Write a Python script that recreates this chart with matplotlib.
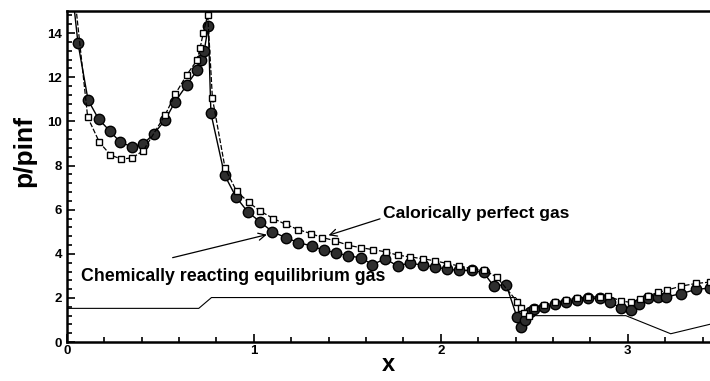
import numpy as np
import matplotlib
matplotlib.use('Agg')
import matplotlib.pyplot as plt
from matplotlib.ticker import MultipleLocator

plt.rcParams['font.family'] = ['Liberation Sans', 'DejaVu Sans']
plt.rcParams['font.weight'] = 'bold'

# chemically reacting equilibrium gas (filled circles); first point is line start only
circ_x = [0.035, 0.06, 0.114, 0.17, 0.229, 0.287, 0.35, 0.409, 0.465, 0.526, 0.58,
          0.642, 0.698, 0.72, 0.735, 0.757, 0.771, 0.844, 0.905, 0.968, 1.034, 1.10,
          1.17, 1.238, 1.309, 1.375, 1.438, 1.506, 1.572, 1.635, 1.703, 1.769, 1.835,
          1.903, 1.968, 2.036, 2.10, 2.165, 2.229, 2.283, 2.35, 2.407, 2.43, 2.45,
          2.478, 2.50, 2.55, 2.61, 2.668, 2.727, 2.79, 2.85, 2.905, 2.964, 3.015,
          3.06, 3.11, 3.16, 3.207, 3.287, 3.367, 3.44]
circ_y = [15.5, 13.55, 10.97, 10.11, 9.58, 9.05, 8.85, 8.98, 9.43, 10.06, 10.9,
          11.65, 12.33, 12.8, 13.2, 14.3, 10.37, 7.57, 6.58, 5.9, 5.45, 5.0,
          4.74, 4.51, 4.36, 4.16, 4.06, 3.9, 3.83, 3.51, 3.78, 3.45, 3.59,
          3.48, 3.41, 3.3, 3.25, 3.25, 3.16, 2.54, 2.61, 1.15, 0.67, 1.0,
          1.37, 1.5, 1.6, 1.72, 1.83, 1.93, 1.98, 1.98, 1.83, 1.53, 1.45,
          1.75, 1.98, 2.05, 2.05, 2.2, 2.39, 2.45]

# calorically perfect gas (open squares); first point is line start only
sq_x = [0.045, 0.112, 0.175, 0.234, 0.292, 0.35, 0.409, 0.526, 0.58, 0.642, 0.698,
        0.713, 0.73, 0.754, 0.779, 0.847, 0.908, 0.973, 1.036, 1.105, 1.17, 1.238,
        1.304, 1.367, 1.436, 1.504, 1.572, 1.638, 1.706, 1.771, 1.837, 1.903, 1.971,
        2.036, 2.10, 2.165, 2.234, 2.299, 2.41, 2.428, 2.445, 2.47, 2.50, 2.55,
        2.61, 2.668, 2.727, 2.79, 2.85, 2.896, 2.964, 3.015, 3.065, 3.11, 3.163,
        3.21, 3.287, 3.367, 3.44]
sq_y = [15.5, 10.19, 9.05, 8.48, 8.29, 8.35, 8.67, 10.29, 11.23, 12.11, 12.79,
        13.32, 14.0, 14.83, 11.05, 7.87, 6.84, 6.33, 5.93, 5.6, 5.34, 5.1,
        4.92, 4.74, 4.59, 4.39, 4.28, 4.19, 4.09, 3.94, 3.86, 3.78, 3.68,
        3.56, 3.45, 3.33, 3.25, 2.95, 1.83, 1.55, 1.3, 1.2, 1.55, 1.68,
        1.8, 1.9, 2.0, 2.05, 2.05, 2.08, 1.87, 1.8, 1.95, 2.1, 2.25,
        2.36, 2.54, 2.66, 2.72]

# body contour (thin line)
body_x = [0.0, 0.706, 0.774, 2.40, 2.47, 2.99, 3.23, 3.45]
body_y = [1.53, 1.53, 2.02, 2.02, 1.2, 1.2, 0.38, 0.83]

fig = plt.figure(figsize=(7.1, 3.81), dpi=100)
ax = fig.add_axes([0.094, 0.102, 0.906, 0.869])

ax.plot(body_x, body_y, '-', color='black', lw=0.8)
ax.plot(circ_x, circ_y, '-', color='black', lw=1.0, marker='o', ms=7.5,
        mfc='#2e2e2e', mec='black', mew=1.0, markevery=slice(1, None))
ax.plot(sq_x, sq_y, '--', color='black', lw=0.9, dashes=(4, 1.5), marker='s', ms=5,
        mfc='white', mec='black', mew=1.0, markevery=slice(1, None))

ax.annotate('Calorically perfect gas', xy=(1.40, 4.84), xytext=(1.69, 5.83),
            fontsize=12.6, fontweight='bold', va='center', ha='left',
            arrowprops=dict(arrowstyle='->', color='black', lw=0.9,
                            shrinkA=0, shrinkB=0, relpos=(0, 0.2)))
ax.annotate('Chemically reacting equilibrium gas', xy=(1.07, 4.87), xytext=(0.078, 2.98),
            fontsize=12.8, fontweight='bold', va='center', ha='left',
            arrowprops=dict(arrowstyle='->', color='black', lw=0.9,
                            shrinkA=0, shrinkB=0, relpos=(0.3, 1.6)))

ax.set_xlim(0, 3.44)
ax.set_ylim(0, 15)
ax.xaxis.set_major_locator(MultipleLocator(1))
ax.xaxis.set_minor_locator(MultipleLocator(0.2))
ax.yaxis.set_major_locator(MultipleLocator(2))
ax.yaxis.set_minor_locator(MultipleLocator(0.4))
ax.tick_params(which='both', direction='in', top=False, right=False, labelsize=9.5, width=1.2)
ax.tick_params(which='major', length=6)
ax.tick_params(which='minor', length=3.5)
ax.tick_params(axis='x', pad=2)

for s in ['left', 'bottom', 'top']:
    ax.spines[s].set_linewidth(1.8)
ax.spines['right'].set_visible(False)

ax.set_xlabel('x', fontsize=17, fontweight='bold', labelpad=-3)
ax.set_ylabel('p/pinf', fontsize=19, fontweight='bold')
ax.yaxis.set_label_coords(-0.047, 0.577)

fig.savefig('out.png', dpi=100)
